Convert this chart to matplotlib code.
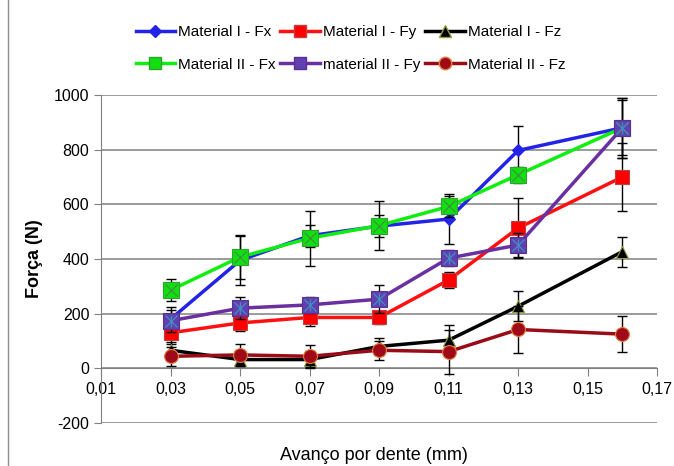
import numpy as np
import matplotlib.pyplot as plt
from matplotlib.ticker import FuncFormatter, FixedLocator, MultipleLocator
from matplotlib.lines import Line2D

plt.rcParams['font.family'] = ['Liberation Sans Narrow', 'Liberation Sans', 'DejaVu Sans']

# avanco por dente (mm)
avanco = [0.03, 0.05, 0.07, 0.09, 0.11, 0.13, 0.16]
marcas_x = [0.01, 0.03, 0.05, 0.07, 0.09, 0.11, 0.13, 0.15, 0.17]

# forcas medias (N) e desvios
fx_m1 = [180, 395, 485, 520, 546, 797, 880]
fy_m1 = [130, 166, 186, 186, 323, 513, 700]
fz_m1 = [66, 32, 32, 80, 103, 227, 427]
fx_m2 = [286, 407, 476, 522, 592, 708, 880]
fy_m2 = [174, 220, 232, 253, 403, 451, 880]
fz_m2 = [44, 49, 44, 66, 61, 142, 125]

err_fx_m1 = [45, 90, 40, 40, 90, 90, 110]
err_fy_m1 = [40, 30, 30, 25, 30, 110, 125]
err_fz_m1 = [30, 25, 30, 30, 55, 55, 55]
err_fx_m2 = [40, 80, 100, 90, 40, 30, 100]
err_fy_m2 = [40, 40, 30, 50, 30, 45, 110]
err_fz_m2 = [35, 40, 40, 35, 80, 85, 65]

nomes = ['Material I - Fx', 'Material I - Fy', 'Material I - Fz',
         'Material II - Fx', 'material II - Fy', 'Material II - Fz']

fig = plt.figure(figsize=(6.74, 4.66), dpi=100)
ax = fig.add_axes([0.150, 0.0923, 0.825, 0.704])

def serie(y, e, cor, mk, ms, mfc, mec, z):
    ax.errorbar(avanco, y, yerr=e, fmt='none', ecolor='black', elinewidth=1,
                capsize=3.5, capthick=1, zorder=z)
    ax.plot(avanco, y, color=cor, lw=2.5, marker=mk, ms=ms, mfc=mfc, mec=mec,
            mew=0.8, zorder=z + 0.5)

serie(fx_m1, err_fx_m1, '#2323e8', 'D', 6, '#2323e8', '#2323e8', 3)
serie(fy_m1, err_fy_m1, '#ff1010', 's', 10, '#ff0000', '#c04040', 3)
serie(fz_m1, err_fz_m1, '#000000', '^', 8, '#000000', '#8aa040', 3)
serie(fx_m2, err_fx_m2, '#10ee10', 's', 11, '#10e010', '#30a030', 4)
ax.plot(avanco, fx_m2, ls='none', marker='x', ms=9, mec='#409040', mew=0.9, zorder=5)
serie(fy_m2, err_fy_m2, '#6a2fa0', 's', 11, '#6040b0', '#5a3090', 4)
ax.plot(avanco, fy_m2, ls='none', marker='x', ms=8, mec='#4090c0', mew=0.9, zorder=5)
ax.plot(avanco, fy_m2, ls='none', marker='|', ms=8, mec='#4090c0', mew=0.9, zorder=5)
serie(fz_m2, err_fz_m2, '#990b16', 'o', 10, '#a00a18', '#e08040', 4)

ax.set_xlim(0.01, 0.17)
ax.set_ylim(-200, 1000)
ax.xaxis.set_major_locator(FixedLocator(marcas_x))
ax.yaxis.set_major_locator(MultipleLocator(200))
ax.xaxis.set_major_formatter(FuncFormatter(lambda v, p: f'{v:.2f}'.replace('.', ',')))
ax.yaxis.set_major_formatter(FuncFormatter(lambda v, p: f'{v:.0f}'))
ax.grid(axis='y', color='#8a8a8a', lw=1.2)
ax.set_axisbelow(True)

for s in ['top', 'right']:
    ax.spines[s].set_visible(False)
ax.spines['bottom'].set_position(('data', 0))
ax.spines['bottom'].set_color('#808080')
ax.spines['left'].set_color('#808080')
ax.tick_params(axis='x', direction='out', length=6, color='#808080', labelsize=11.5, pad=4)
ax.tick_params(axis='y', direction='out', length=5, color='#808080', labelsize=11.5)

ax.set_ylabel('Força (N)', fontsize=13, fontweight='bold', family=['Liberation Sans', 'DejaVu Sans'])
ax.yaxis.set_label_coords(-0.105, 0.5)
fig.text(0.555, 0.012, 'Avanço por dente (mm)', ha='center', fontsize=13)

# legenda em duas linhas acima do grafico
estilos = [
    dict(color='#2323e8', marker='D', ms=6, mfc='#2323e8', mec='#2323e8'),
    dict(color='#ff1010', marker='s', ms=9, mfc='#ff0000', mec='#c04040'),
    dict(color='#000000', marker='^', ms=8, mfc='#000000', mec='#8aa040'),
    dict(color='#10ee10', marker='s', ms=9, mfc='#10e010', mec='#30a030'),
    dict(color='#6a2fa0', marker='s', ms=9, mfc='#6040b0', mec='#5a3090'),
    dict(color='#990b16', marker='o', ms=9, mfc='#a00a18', mec='#e08040'),
]
alcas = [Line2D([], [], lw=2.5, **e) for e in estilos]
ordem = [0, 3, 1, 4, 2, 5]
fig.legend([alcas[i] for i in ordem], [nomes[i] for i in ordem], loc='upper center',
           bbox_to_anchor=(0.52, 0.975), ncol=3, frameon=False, fontsize=11,
           handlelength=2.6, handletextpad=0.2, columnspacing=0.3, labelspacing=1.2)

# moldura esquerda
fig.add_artist(Line2D([0.012, 0.012], [0, 1], transform=fig.transFigure, color='#909090', lw=1))

fig.savefig('out.png', dpi=100)
